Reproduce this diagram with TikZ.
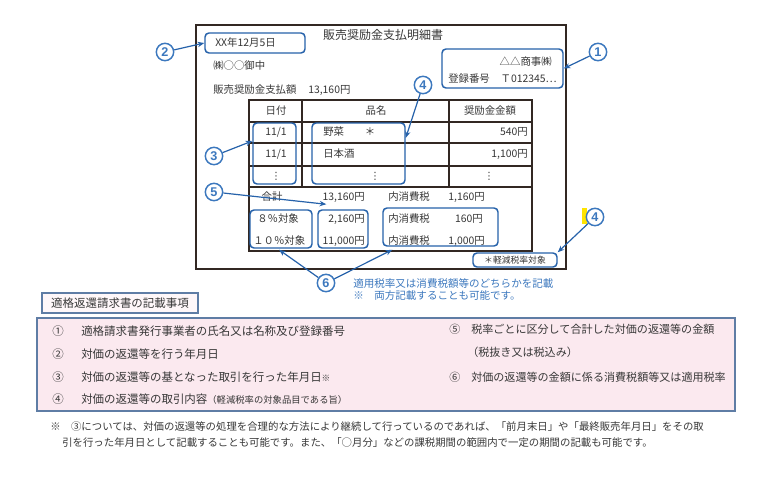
\documentclass[tikz,border=0pt]{standalone}
\usepackage{fontspec}
\setmainfont{Noto Sans CJK JP}
\newfontfamily\numfont{Liberation Sans}
\newfontfamily\dvfont{DejaVu Sans}
\usetikzlibrary{arrows.meta,calc}
\definecolor{frameC}{RGB}{50,40,35}
\definecolor{blueC}{RGB}{38,98,170}
\definecolor{labC}{RGB}{60,120,190}
\definecolor{txtC}{RGB}{55,55,55}
\definecolor{pinkC}{RGB}{251,233,239}
\definecolor{pinkB}{RGB}{95,125,165}
\definecolor{hlC}{RGB}{255,228,0}
\begin{document}
\begin{tikzpicture}[x=0.75pt,y=-0.75pt,
  doc/.style={font=\fontsize{7.8}{9}\selectfont, text=txtC, inner sep=0pt},
  small/.style={font=\fontsize{6.6}{8}\selectfont, text=txtC, inner sep=0pt},
  blist/.style={font=\fontsize{8.6}{10}\selectfont, text=txtC, inner sep=0pt},
  rlist/.style={font=\fontsize{8.3}{10}\selectfont, text=txtC, inner sep=0pt},
  note/.style={font=\fontsize{7.9}{9}\selectfont, text=labC, inner sep=0pt},
  markbox/.style={draw=blueC, line width=1.1pt, rounded corners=3pt, inner sep=0pt},
  tbl/.style={draw=frameC, line width=0.9pt},
  lab/.style={circle, draw=labC, line width=1.1pt, text=labC, inner sep=0pt,
    minimum size=13pt, font=\numfont\bfseries\fontsize{9.5}{9.5}\selectfont},
  arr/.style={-{Stealth[length=5pt,width=4pt]}, draw=blueC, line width=0.9pt}]
\useasboundingbox (0,0) rectangle (770,484);
\fill[white] (0,0) rectangle (770,484);

% document frame
\node[draw=frameC, line width=1.5pt, minimum width=277.5pt, minimum height=183pt, inner sep=0pt] (frame) at (381,147) {};
\node[doc, font=\fontsize{9}{10}\selectfont] (title) at (383,35) {販売奨励金支払明細書};

% header texts
\node[markbox, minimum width=75pt, minimum height=15pt] (date) at (255,43) {};
\node[doc, anchor=west] (dateT) at (215,43) {XX年12月5日};
\node[doc, anchor=west] (toT) at (213,66) {㈱○○御中};
\node[doc, anchor=west] (payT) at (213,90) {販売奨励金支払額};
\node[doc, anchor=west] (payV) at (308,90) {13,160円};

\node[markbox, minimum width=90.75pt, minimum height=29.25pt] (seller) at (502.5,68.5) {};
\node[doc, anchor=east] (sellerN) at (552,62) {△△商事㈱};
\node[doc, anchor=west] (regT) at (448,79) {登録番号};
\node[doc, anchor=east] (regV) at (557,79) {Ｔ012345…};

% table
\draw[tbl] (249,100) rectangle (532,251);
\draw[tbl] (249,122) -- (532,122) (249,143) -- (532,143) (249,166) -- (532,166) (249,187) -- (532,187);
\draw[tbl] (302,100) -- (302,187) (449,100) -- (449,187);

\node[doc] (h1) at (276,111) {日付};
\node[doc] (h2) at (376,111) {品名};
\node[doc] (h3) at (490,111) {奨励金金額};

\node[doc] (d1) at (276,132) {11/1};
\node[doc, anchor=west] (i1) at (323,132) {野菜};
\node[doc] (i1s) at (370,132) {＊};
\node[doc, anchor=east] (a1) at (528,132) {540円};
\node[doc] (d2) at (276,154) {11/1};
\node[doc, anchor=west] (i2) at (323,154) {日本酒};
\node[doc, anchor=east] (a2) at (528,154) {1,100円};
\node[doc, font=\dvfont\fontsize{7.5}{9}\selectfont] (v1) at (276,176) {⋮};
\node[doc, font=\dvfont\fontsize{7.5}{9}\selectfont] (v2) at (375,176) {⋮};
\node[doc, font=\dvfont\fontsize{7.5}{9}\selectfont] (v3) at (489,176) {⋮};

\node[doc] (sumL) at (272,197) {合計};
\node[doc, anchor=east] (sumV) at (365,197) {13,160円};
\node[doc, anchor=west] (sumTx) at (388,197) {内消費税};
\node[doc, anchor=east] (sumTv) at (485,197) {1,160円};
\node[doc, anchor=west] (r8) at (257,219) {８％対象};
\node[doc, anchor=east] (r8v) at (365,219) {2,160円};
\node[doc, anchor=west] (r8t) at (388,219) {内消費税};
\node[doc, anchor=east] (r8tv) at (483,219) {160円};
\node[doc, anchor=west] (r10) at (253,241) {１０％対象};
\node[doc, anchor=east] (r10v) at (365,241) {11,000円};
\node[doc, anchor=west] (r10t) at (388,241) {内消費税};
\node[doc, anchor=east] (r10tv) at (485,241) {1,000円};

% blue marking boxes
\node[markbox, minimum width=32.25pt, minimum height=45.75pt] (datecol) at (274.5,153.5) {};
\node[markbox, minimum width=69.75pt, minimum height=45.75pt] (itemcol) at (358.5,153.5) {};
\node[markbox, minimum width=46.5pt, minimum height=28.5pt] (ratebox) at (281,229) {};
\node[markbox, minimum width=37.5pt, minimum height=28.5pt] (amtbox) at (343,229) {};
\node[markbox, minimum width=86.25pt, minimum height=28.5pt] (taxbox) at (440.5,227) {};
\node[markbox, minimum width=63pt, minimum height=10.5pt] (reduced) at (515,260) {};
\node[small] (redT) at (515,260) {＊軽減税率対象};

% highlight
\fill[hlC] (582,208) rectangle (587,224);

% labels
\node[lab] (lab1) at (598,52) {1};
\node[lab] (lab2) at (165,52) {2};
\node[lab] (lab3) at (214,156) {3};
\node[lab] (lab4a) at (423,85) {4};
\node[lab] (lab5) at (214,192) {5};
\node[lab] (lab4b) at (595,217) {4};
\node[lab] (lab6) at (326,283) {6};

\coordinate (t3) at ($(datecol.north west)!0.3!(datecol.south west)$);
\coordinate (t4) at ($(itemcol.north east)!0.25!(itemcol.south east)$);
\coordinate (t5) at ($(amtbox.north west)+(9,-5)$);
\coordinate (t6a) at ($(ratebox.south)+(-2,1)$);
\coordinate (t6b) at ($(taxbox.south west)+(10,3)$);

\draw[arr] (lab1) -- (seller.east);
\draw[arr] (lab2) -- (date.west);
\draw[arr] (lab3) -- (t3);
\draw[arr] (lab4a) -- (t4);
\draw[arr] (lab5) -- (t5);
\draw[arr] (lab4b) -- (reduced.north east);
\draw[arr] (lab6) -- (t6a);
\draw[arr] (lab6) -- (t6b);

\node[note, anchor=west] (note1) at (353,283) {適用税率又は消費税額等のどちらかを記載};
\node[note, anchor=west] (note2) at (353,296) {※　両方記載することも可能です。};

% bottom section
\node[draw=pinkB, line width=1pt, fill=pinkC!35, minimum width=117pt, minimum height=15pt, inner sep=0pt] (btitle) at (120,303) {};
\node[blist] (btitleT) at (120,303) {適格返還請求書の記載事項};

\node[draw=pinkB, line width=1pt, fill=pinkC, minimum width=523.5pt, minimum height=69.75pt, inner sep=0pt] (pbox) at (386,364.5) {};

\node[blist] (n1) at (58,331) {①};
\node[blist, anchor=west] (t1) at (81,331) {適格請求書発行事業者の氏名又は名称及び登録番号};
\node[blist] (n2) at (58,354) {②};
\node[blist, anchor=west] (t2) at (81,354) {対価の返還等を行う年月日};
\node[blist] (n3) at (58,377) {③};
\node[blist, anchor=west] (t3x) at (81,377) {対価の返還等の基となった取引を行った年月日{\fontsize{6.5}{8}\selectfont ※}};
\node[blist] (n4) at (58,399) {④};
\node[blist, anchor=west] (t4x) at (81,399) {対価の返還等の取引内容{\fontsize{7}{8}\selectfont （軽減税率の対象品目である旨）}};

\node[rlist] (n5) at (455,329) {⑤};
\node[rlist, anchor=west] (t5x) at (471,329) {税率ごとに区分して合計した対価の返還等の金額};
\node[rlist, anchor=west] (t5b) at (467,352) {（税抜き又は税込み）};
\node[rlist] (n6) at (455,377) {⑥};
\node[rlist, anchor=west] (t6x) at (471,377) {対価の返還等の金額に係る消費税額等又は適用税率};

\node[doc, anchor=west] (fn1) at (50,427) {※　③については、対価の返還等の処理を合理的な方法により継続して行っているのであれば、「前月末日」や「最終販売年月日」をその取};
\node[doc, anchor=west] (fn2) at (62,443) {引を行った年月日として記載することも可能です。また、「○月分」などの課税期間の範囲内で一定の期間の記載も可能です。};
\end{tikzpicture}
\end{document}
